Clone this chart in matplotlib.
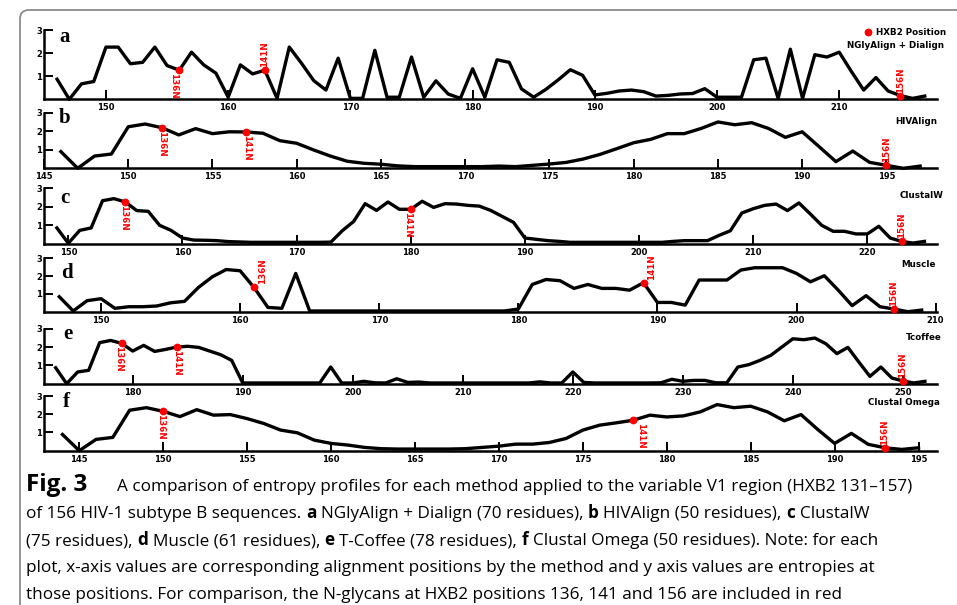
import numpy as np
import matplotlib.pyplot as plt
from matplotlib.patches import FancyBboxPatch

W, H = 957, 605

# entropy per alignment position
a_start = 146
a_vals = [0.87, 0.0, 0.67, 0.77, 2.26, 2.26, 1.54, 1.6, 2.26, 1.46, 1.26, 2.04,
          1.49, 1.13, 0.09, 1.49, 1.1, 1.26, 0.04, 2.26, 1.56, 0.81, 0.4, 1.78,
          0.04, 0.04, 2.12, 0.09, 0.09, 1.83, 0.09, 0.8, 0.23, 0.04, 1.32, 0.09,
          1.71, 1.6, 0.45, 0.09, 0.43, 0.84, 1.28, 1.04, 0.19, 0.26, 0.36, 0.4,
          0.33, 0.14, 0.17, 0.23, 0.25, 0.46, 0.09, 0.09, 0.09, 1.71, 1.78, 0.04,
          2.17, 0.04, 1.93, 1.83, 2.04, 1.2, 0.4, 0.94, 0.36, 0.16, 0.04, 0.14]

b_start = 146
b_vals = [0.9, 0.0, 0.66, 0.77, 2.24, 2.39, 2.19, 1.8, 2.14, 1.87, 1.97, 1.96,
          1.89, 1.49, 1.35, 0.99, 0.66, 0.38, 0.27, 0.22, 0.13, 0.09, 0.09, 0.09,
          0.09, 0.09, 0.12, 0.09, 0.16, 0.23, 0.32, 0.5, 0.75, 1.06, 1.38, 1.56,
          1.87, 1.87, 2.15, 2.5, 2.35, 2.46, 2.15, 1.67, 1.97, 1.17, 0.36, 0.93,
          0.32, 0.16, 0.0, 0.12]

c_start = 149
c_vals = [0.86, 0.04, 0.73, 0.86, 2.32, 2.43, 2.25, 1.79, 1.75, 1.0, 0.73, 0.32,
          0.21, 0.2, 0.18, 0.13, 0.11, 0.09, 0.09, 0.09, 0.09, 0.09, 0.09, 0.09,
          0.1, 0.71, 1.21, 2.16, 1.8, 2.25, 1.86, 1.86, 2.29, 1.96, 2.16, 2.14,
          2.07, 2.03, 1.8, 1.48, 1.16, 0.32, 0.25, 0.18, 0.14, 0.09, 0.09, 0.09,
          0.09, 0.09, 0.09, 0.09, 0.09, 0.09, 0.14, 0.18, 0.18, 0.18, 0.46, 0.71,
          1.66, 1.89, 2.07, 2.14, 1.79, 2.2, 1.61, 1.0, 0.68, 0.68, 0.54, 0.54,
          0.95, 0.32, 0.14, 0.05, 0.14]

d_start = 147
d_vals = [0.84, 0.04, 0.62, 0.73, 0.19, 0.28, 0.28, 0.32, 0.5, 0.58, 1.36, 1.96,
          2.37, 2.3, 1.36, 0.24, 0.19, 2.15, 0.04, 0.04, 0.04, 0.04, 0.04, 0.04,
          0.04, 0.04, 0.04, 0.04, 0.04, 0.04, 0.04, 0.04, 0.04, 0.15, 1.53, 1.81,
          1.74, 1.31, 1.53, 1.31, 1.31, 1.21, 1.63, 0.52, 0.52, 0.37, 1.78, 1.78,
          1.78, 2.34, 2.47, 2.47, 2.47, 2.15, 1.68, 2.02, 1.21, 0.34, 0.9, 0.28,
          0.15, 0.0, 0.09]

e_start = 173
e_vals = [0.87, 0.0, 0.64, 0.73, 2.24, 2.36, 2.2, 1.78, 2.09, 1.76, 1.87, 2.0,
          2.04, 1.98, 1.78, 1.58, 1.27, 0.04, 0.04, 0.04, 0.04, 0.04, 0.04, 0.04,
          0.04, 0.91, 0.04, 0.04, 0.13, 0.05, 0.04, 0.27, 0.07, 0.09, 0.04, 0.04,
          0.04, 0.04, 0.04, 0.04, 0.04, 0.04, 0.04, 0.04, 0.1, 0.04, 0.04, 0.64,
          0.07, 0.04, 0.04, 0.04, 0.04, 0.04, 0.04, 0.05, 0.24, 0.13, 0.18, 0.18,
          0.05, 0.05, 0.91, 1.04, 1.27, 1.55, 2.0, 2.45, 2.4, 2.49, 2.18, 1.64,
          1.98, 1.18, 0.4, 0.91, 0.31, 0.15, 0.04, 0.13]

f_start = 144
f_vals = [0.89, 0.0, 0.62, 0.73, 2.22, 2.36, 2.16, 1.87, 2.25, 1.95, 1.98, 1.76,
          1.49, 1.13, 0.98, 0.58, 0.4, 0.31, 0.18, 0.11, 0.09, 0.09, 0.09, 0.09,
          0.11, 0.18, 0.25, 0.36, 0.36, 0.45, 0.67, 1.13, 1.4, 1.53, 1.67, 1.95,
          1.85, 1.91, 2.13, 2.53, 2.36, 2.44, 2.13, 1.64, 1.98, 1.16, 0.4, 0.95,
          0.35, 0.16, 0.07, 0.16]

# alignment positions of the HXB2 N-glycans 136, 141, 156
site_names = ['136N', '141N', '156N']
a_sites = [156, 163, 215]
b_sites = [152, 157, 195]
c_sites = [155, 180, 223]
d_sites = [161, 189, 207]
e_sites = [179, 184, 250]
f_sites = [150, 178, 193]

letters = ['a', 'b', 'c', 'd', 'e', 'f']
methods = ['NGlyAlign + Dialign', 'HIVAlign', 'ClustalW', 'Muscle', 'Tcoffee',
           'Clustal Omega']
a_ticks = np.arange(150, 211, 10)
b_ticks = np.arange(145, 196, 5)
c_ticks = np.arange(150, 221, 10)
d_ticks = np.arange(150, 211, 10)
e_ticks = np.arange(180, 251, 10)
f_ticks = np.arange(145, 196, 5)

series = [(a_start, a_vals, a_sites, a_ticks), (b_start, b_vals, b_sites, b_ticks),
          (c_start, c_vals, c_sites, c_ticks), (d_start, d_vals, d_sites, d_ticks),
          (e_start, e_vals, e_sites, e_ticks), (f_start, f_vals, f_sites, f_ticks)]

# layout in pixels of the original page
tops = [30, 112.7, 188, 258.3, 328.7, 396]
bottoms = [99.3, 168.3, 244, 311.7, 383.7, 450.7]
xlims = [(144.93, 218.0), (145.06, 198.0), (147.87, 226.1), (145.9, 210.1),
         (171.94, 253.1), (142.9, 196.1)]
letter_pos = [(59, 41.7), (59, 122.7), (60, 203), (61, 278), (63, 339), (63, 406.7)]
method_pos = [(944, 46), (937, 121), (944, 195.3), (936, 264.3), (942, 337.7),
              (940, 402.7)]
# label side (up/down) and x shift in px for each site
site_style = [[('down', -6), ('up', 0), ('up', 0)],
              [('down', 0), ('down', 0), ('up', 0)],
              [('down', -2), ('down', -3), ('up', 0)],
              [('up', 8), ('up', 8), ('up', 0)],
              [('down', -3), ('down', 0), ('up', 0)],
              [('down', -3), ('down', 7), ('up', 0)]]

fig = plt.figure(figsize=(W / 100, H / 100), dpi=100)

# page overlay in pixel coordinates
page = fig.add_axes([0, 0, 1, 1])
page.set_xlim(0, W)
page.set_ylim(H, 0)
page.axis('off')
page.add_patch(FancyBboxPatch((20, 10), 1000, 1000, boxstyle='round,pad=0,rounding_size=9',
                              fc='none', ec='#8c8c8c', lw=1.3))

axes = []
for i, (start, vals, sites, ticks) in enumerate(series):
    top, bot = tops[i], bottoms[i]
    ax = fig.add_axes([44 / W, 1 - bot / H, (937 - 44) / W, (bot - top) / H])
    x = np.arange(start, start + len(vals))
    y = np.array(vals)
    ax.plot(x, y, color='black', lw=2.4, clip_on=False, zorder=3)

    for j, pos in enumerate(sites):
        yv = y[pos - start]
        ax.plot(pos, yv, 'o', color='red', ms=4.6, zorder=4, clip_on=False)
        side, dx = site_style[i][j]
        if side == 'up':
            ax.annotate(site_names[j], (pos, yv), xytext=(dx, 3), textcoords='offset pixels',
                        rotation=90, ha='center', va='bottom', color='red',
                        fontsize=6.3, fontweight='bold')
        else:
            ax.annotate(site_names[j], (pos, yv), xytext=(dx, -3), textcoords='offset pixels',
                        rotation=270, ha='center', va='top', color='red',
                        fontsize=6.3, fontweight='bold')

    ax.set_xlim(*xlims[i])
    ax.set_ylim(0, 3)
    ax.set_xticks(ticks)
    ax.set_yticks([1, 2, 3])
    ax.patch.set_alpha(0)
    for s in ['top', 'right']:
        ax.spines[s].set_visible(False)
    for s in ['left', 'bottom']:
        ax.spines[s].set_linewidth(1.8)
    ax.tick_params(direction='in', length=6.5, width=1.4, labelsize=6)
    ax.tick_params(axis='x', pad=3)
    ax.tick_params(axis='y', pad=1.5)
    for lbl in ax.get_xticklabels() + ax.get_yticklabels():
        lbl.set_fontweight('bold')
    axes.append(ax)

    lx, ly = letter_pos[i]
    fig.text(lx / W, 1 - ly / H, letters[i], fontsize=15, fontweight='bold',
             family='Liberation Serif', va='baseline')
    mx, my = method_pos[i]
    fig.text(mx / W, 1 - my / H, methods[i], fontsize=6.3, fontweight='bold',
             ha='right', va='center')

axes[0].plot([], [], 'o', color='red', ms=4.6, label='HXB2 Position')
leg = axes[0].legend(loc='upper right', bbox_to_anchor=(946 / W, 1 - 28 / H),
                     bbox_transform=fig.transFigure, frameon=False, borderpad=0,
                     borderaxespad=0, handlelength=0.8, handletextpad=0.5,
                     prop={'size': 6.3, 'weight': 'bold'})

# caption
cap_font = 'Open Sans'
cap_size = 12.3
page.text(26, 491, 'Fig. 3', fontsize=17.5, fontweight='bold', family=cap_font,
          va='baseline')
cap_lines = [
    [('A comparison of entropy profiles for each method applied to the '
      'variable V1 region (HXB2 131–157)', False)],
    [('of 156 HIV-1 subtype B sequences.', False), ('a', True),
     ('NGlyAlign + Dialign (70 residues),', False), ('b', True),
     ('HIVAlign (50 residues),', False), ('c', True), ('ClustalW', False)],
    [('(75 residues),', False), ('d', True), ('Muscle (61 residues),', False),
     ('e', True), ('T-Coffee (78 residues),', False), ('f', True),
     ('Clustal Omega (50 residues). Note: for each', False)],
    [('plot, x-axis values are corresponding alignment positions by the method and '
      'y axis values are entropies at', False)],
    [('those positions. For comparison, the N-glycans at HXB2 positions 136, 141 '
      'and 156 are included in red', False)],
]
line_x = [117, 26, 26, 26, 26]
baselines = [491, 518, 545, 572, 599]
space = 0.27 * cap_size
for k, parts in enumerate(cap_lines):
    prev = None
    for txt, bold in parts:
        w = 'bold' if bold else 'normal'
        if prev is None:
            prev = page.text(line_x[k], baselines[k], txt, fontsize=cap_size, fontweight=w,
                             family=cap_font, va='baseline')
        else:
            prev = page.annotate(txt, xy=(1, 0), xycoords=prev, xytext=(space, 0),
                                 textcoords='offset points', fontsize=cap_size,
                                 fontweight=w, family=cap_font, va='bottom')

fig.savefig('out.png', dpi=100)
